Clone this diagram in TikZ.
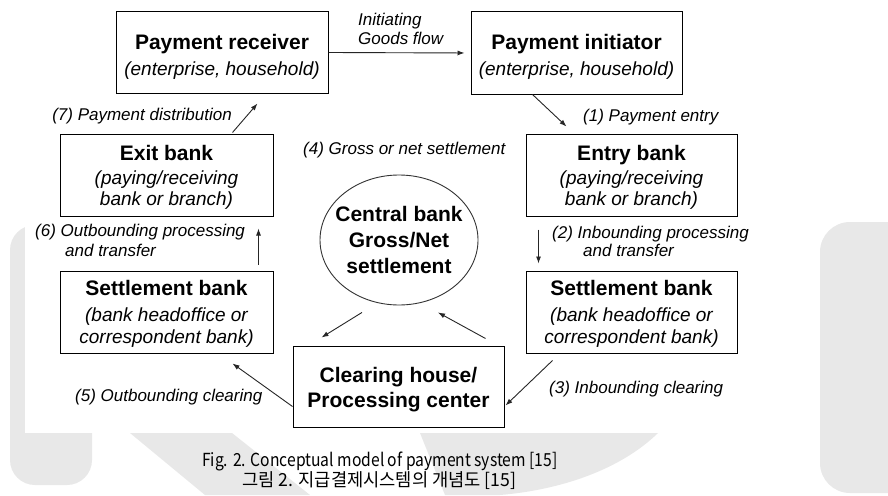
\documentclass[tikz,border=0pt]{standalone}
\usepackage{fontspec}
\setmainfont{Liberation Sans}
\newfontfamily\krfont{Noto Sans CJK KR}
\usetikzlibrary{arrows.meta,shapes.geometric}

\begin{document}
\begin{tikzpicture}[x=1pt,y=-1pt,
  box/.style={draw=black, line width=1pt, rectangle, inner sep=0pt},
  ttl/.style={font=\fontsize{21}{25}\selectfont\bfseries, anchor=base, inner sep=0pt},
  sub/.style={font=\fontsize{19}{22}\selectfont\itshape, anchor=base, inner sep=0pt},
  lbl/.style={font=\fontsize{17}{20}\selectfont\itshape, anchor=base west, inner sep=0pt},
  arr/.style={draw=black!85, line width=0.9pt, -{Latex[length=7pt,width=5pt]}},
  wm/.style={fill=black!9, draw=none},
  captxt/.style={font=\krfont\fontsize{18}{21}\selectfont, anchor=base west, inner sep=0pt}]

\useasboundingbox (0,0) rectangle (888,495);
\clip (0,0) rectangle (888,495);
\fill[white] (0,0) rectangle (888,495);

% watermark shapes
\fill[wm, rounded corners=25pt] (10,225) rectangle (92,485);
\fill[wm, rounded corners=30pt] (820,222) rectangle (930,493);
\fill[wm] (130,433) -- (232,433) -- (310,495) -- (205,495) -- cycle;
\fill[wm] (420,433) -- (658,433) .. controls (620,470) and (560,490) .. (500,495) -- (445,495) -- cycle;

% white panel
\fill[white] (25,0) rectangle (758,433);

% boxes
\node[box, minimum width=212pt, minimum height=81pt] (recv) at (222,52.5) {};
\node[box, minimum width=211pt, minimum height=82pt] (init) at (576.5,53) {};
\node[box, minimum width=213pt, minimum height=82pt] (exit) at (166.5,175) {};
\node[box, minimum width=211pt, minimum height=82pt] (entry) at (631.5,175) {};
\node[box, minimum width=213pt, minimum height=82pt] (setl) at (166.5,312) {};
\node[box, minimum width=211pt, minimum height=82pt] (setr) at (631.5,312) {};
\node[box, minimum width=211pt, minimum height=81pt] (clr) at (398.5,386.5) {};
\node[draw=black!80, line width=0.9pt, ellipse, minimum width=158pt, minimum height=130pt, inner sep=0pt] (cb) at (399,240) {};

% box texts
\node[ttl] (recvT) at (222,50) {Payment receiver};
\node[sub] (recvS) at (222,75) {(enterprise, household)};
\node[ttl] (initT) at (576.5,50) {Payment initiator};
\node[sub] (initS) at (576.5,75) {(enterprise, household)};
\node[ttl] (exitT) at (166.5,160) {Exit bank};
\node[sub] (exitS1) at (166.5,184) {(paying/receiving};
\node[sub] (exitS2) at (166.5,205) {bank or branch)};
\node[ttl] (entryT) at (631.5,160) {Entry bank};
\node[sub] (entryS1) at (631.5,184) {(paying/receiving};
\node[sub] (entryS2) at (631.5,205) {bank or branch)};
\node[ttl] (setlT) at (166.5,295) {Settlement bank};
\node[sub] (setlS1) at (166.5,321) {(bank headoffice or};
\node[sub] (setlS2) at (166.5,343) {correspondent bank)};
\node[ttl] (setrT) at (631.5,295) {Settlement bank};
\node[sub] (setrS1) at (631.5,321) {(bank headoffice or};
\node[sub] (setrS2) at (631.5,343) {correspondent bank)};
\node[ttl] (clrT1) at (398.5,382) {Clearing house/};
\node[ttl] (clrT2) at (398.5,407) {Processing center};
\node[ttl] (cbT1) at (399,221) {Central bank};
\node[ttl] (cbT2) at (399,247) {Gross/Net};
\node[ttl] (cbT3) at (399,273) {settlement};

% connector labels
\node[lbl] (l0a) at (358,26) {Initiating};
\node[lbl] (l0b) at (358,45) {Goods flow};
\node[lbl] (l1) at (583,121) {(1) Payment entry};
\node[lbl] (l2a) at (552,238) {(2) Inbounding processing};
\node[lbl] (l2b) at (583,256) {and transfer};
\node[lbl] (l3) at (549,393) {(3) Inbounding clearing};
\node[lbl] (l4) at (303,154) {(4) Gross or net settlement};
\node[lbl] (l5) at (75,401) {(5) Outbounding clearing};
\node[lbl] (l6a) at (35,236) {(6) Outbounding processing};
\node[lbl] (l6b) at (65,256) {and transfer};
\node[lbl, anchor=base east] (l7) at (232,120) {(7) Payment distribution};

% connectors
\draw[arr, shorten >=6pt] (recv.east) -- (init.west);
\draw[arr] ([xshift=62pt]init.south west) -- ([xshift=41pt,yshift=7pt]entry.north west);
\draw[arr] ([xshift=13pt,yshift=-13pt]entry.south west) -- ([xshift=13pt,yshift=7pt]setr.north west);
\draw[arr] ([xshift=27pt,yshift=-7pt]setr.south west) -- ([xshift=1pt,yshift=22pt]clr.south east);
\draw[arr] ([xshift=-19pt,yshift=7pt]clr.north east) -- ([xshift=39pt,yshift=-7pt]cb.south);
\draw[arr] ([xshift=-37pt,yshift=-7pt]cb.south) -- ([xshift=29pt,yshift=8pt]clr.north west);
\draw[arr] ([yshift=21pt]clr.south west) -- ([xshift=173pt,yshift=-10pt]setl.south west);
\draw[arr] ([xshift=199pt,yshift=6pt]setl.north west) -- ([xshift=199pt,yshift=-12pt]exit.south west);
\draw[arr] ([xshift=173pt,yshift=1pt]exit.north west) -- ([xshift=142pt,yshift=-10pt]recv.south west);

% caption
\node[captxt] (cap1) at (202,466) {\scalebox{0.87}[1]{Fig. 2. Conceptual model of payment system [15]}};
\node[captxt] (cap2) at (242,486) {\scalebox{0.98}[1]{그림 2. 지급결제시스템의 개념도 [15]}};
\end{tikzpicture}
\end{document}
